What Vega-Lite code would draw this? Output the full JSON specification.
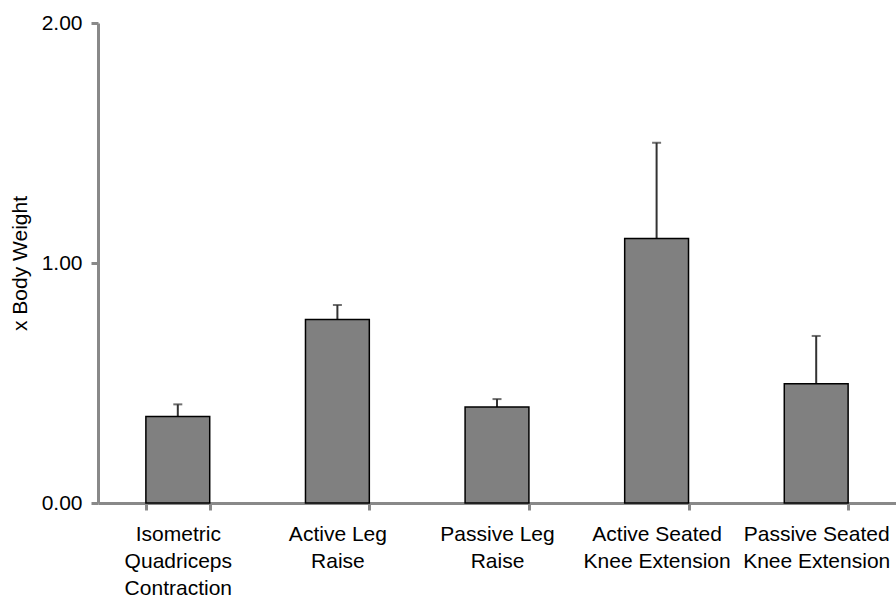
{
  "$schema": "https://vega.github.io/schema/vega-lite/v6.json",
  "autosize": {"type": "none"},
  "width": 798,
  "height": 480,
  "padding": {"left": 98, "top": 23, "right": 0, "bottom": 93},
  "background": "white",
  "config": {
    "font": "Liberation Sans",
    "view": {"stroke": null}
  },
  "data": {
    "values": [
      {"exercise": "Isometric|Quadriceps|Contraction", "mean": 0.36, "upper": 0.411},
      {"exercise": "Active Leg|Raise", "mean": 0.765, "upper": 0.825},
      {"exercise": "Passive Leg|Raise", "mean": 0.40, "upper": 0.433},
      {"exercise": "Active Seated|Knee Extension", "mean": 1.102, "upper": 1.501},
      {"exercise": "Passive Seated|Knee Extension", "mean": 0.497, "upper": 0.696}
    ]
  },
  "encoding": {
    "x": {
      "field": "exercise", "type": "nominal", "sort": null,
      "scale": {"paddingInner": 0.6, "paddingOuter": 0.3},
      "axis": {"title": null, "labelAngle": 0, "tickBand": "extent", "labelExpr": "split(datum.label, '|')", "labelFont": "Liberation Sans", "labelColor": "black", "labelFontSize": 21, "labelLineHeight": 27, "labelPadding": 13, "labelBaseline": "top", "grid": false, "domainColor": "#898989", "domainWidth": 3, "tickColor": "#898989", "tickWidth": 3, "tickSize": 7}
    }
  },
  "layer": [
    {
      "mark": {"type": "rule", "color": "#333333", "strokeWidth": 2},
      "encoding": {
        "y": {"field": "mean", "type": "quantitative"},
        "y2": {"field": "upper"}
      }
    },
    {
      "mark": {"type": "tick", "color": "#333333", "thickness": 2, "size": 9},
      "encoding": {
        "y": {"field": "upper", "type": "quantitative"}
      }
    },
    {
      "mark": {"type": "bar", "fill": "#808080", "stroke": "black", "strokeWidth": 1.5},
      "encoding": {
        "y": {
          "field": "mean", "type": "quantitative",
          "scale": {"domain": [0, 2], "nice": false},
          "axis": {"title": "x Body Weight", "values": [0, 1, 2], "format": ".2f", "grid": false, "labelFont": "Liberation Sans", "labelColor": "black", "labelFontSize": 21, "labelPadding": 9, "titleFont": "Liberation Sans", "titleFontWeight": "normal", "titleColor": "black", "titleFontSize": 21, "titlePadding": 11, "domainColor": "#898989", "domainWidth": 3, "tickColor": "#898989", "tickWidth": 3, "tickSize": 7}
        }
      }
    }
  ]
}
